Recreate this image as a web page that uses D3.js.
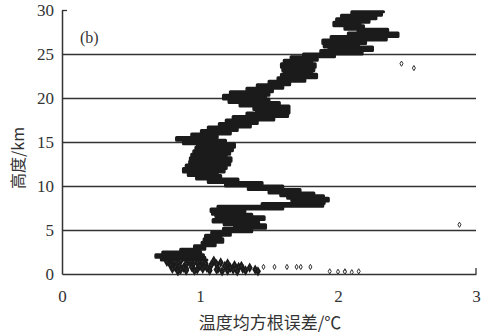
<!DOCTYPE html>
<html>
<head>
<meta charset="utf-8">
<script src="https://cdn.jsdelivr.net/npm/d3@7"></script>
<style>
  body { margin: 0; background: #fff; }
  svg { display: block; }
</style>
</head>
<body>
<div id="graph"></div>
<script>
var width = 484,
    height = 336

// ticks
var xTicks = [0, 1, 2, 3]
var yTicks = [0, 5, 10, 15, 20, 25, 30]

// main profile: each layer is a height (km) with the rmse range (°C) covered by the points
var heights = [1.6, 1.9, 2.2, 2.5, 2.8, 3.2, 3.6, 4.0, 4.4, 4.8, 5.2, 5.6, 5.9, 6.2, 6.5, 6.8, 7.1, 7.4, 7.7,
  8.0, 8.3, 8.6, 8.9, 9.2, 9.6, 10.0, 10.4, 10.8, 11.2, 11.6, 12.0, 12.4, 12.8, 13.2, 13.6,
  14.0, 14.4, 14.8, 15.2, 15.5, 15.9, 16.3, 16.7, 17.1, 17.5, 17.9, 18.3, 18.7, 19.1, 19.5,
  19.9, 20.3, 20.7, 21.1, 21.5, 21.9, 22.3, 22.7, 23.1, 23.5, 23.9, 24.3, 24.7, 25.0, 25.4,
  25.8, 26.2, 26.6, 27.0, 27.4, 27.8, 28.2, 28.6, 29.0, 29.4, 29.8]
var rmseLow = [0.74, 0.70, 0.66, 0.80, 0.92, 1.00, 1.03, 1.03, 1.05, 1.12, 1.22, 1.28, 1.07, 1.12, 1.15, 1.08, 1.10, 1.06, 1.20,
  1.70, 1.68, 1.65, 1.62, 1.55, 1.45, 1.25, 1.12, 1.00, 0.95, 0.88, 0.88, 0.92, 0.93, 0.93, 0.95,
  0.96, 0.98, 0.98, 0.78, 0.88, 1.00, 1.02, 1.10, 1.18, 1.20, 1.28, 1.40, 1.42, 1.36, 1.22,
  1.20, 1.14, 1.30, 1.38, 1.45, 1.55, 1.58, 1.60, 1.62, 1.58, 1.60, 1.62, 1.70, 1.80, 1.95,
  1.92, 1.88, 1.90, 2.00, 2.15, 2.14, 1.96, 1.98, 2.00, 2.05, 2.15]
var rmseHigh = [1.05, 1.02, 1.03, 0.98, 1.02, 1.05, 1.17, 1.16, 1.14, 1.30, 1.45, 1.50, 1.35, 1.48, 1.45, 1.30, 1.35, 1.30, 1.90,
  1.88, 1.92, 1.94, 1.85, 1.80, 1.65, 1.55, 1.35, 1.20, 1.10, 1.15, 1.20, 1.18, 1.25, 1.20, 1.18,
  1.25, 1.22, 1.28, 1.09, 1.05, 1.20, 1.24, 1.30, 1.43, 1.40, 1.67, 1.60, 1.69, 1.60, 1.55,
  1.45, 1.50, 1.50, 1.55, 1.65, 1.65, 1.87, 1.82, 1.80, 1.85, 1.82, 1.80, 1.90, 2.05, 2.30,
  2.20, 2.10, 2.30, 2.40, 2.47, 2.25, 2.12, 2.20, 2.25, 2.30, 2.33]

// scattered points near the ground
var lowH = [1.4, 1.3, 1.5, 1.2, 1.4, 1.1, 1.3, 1.0, 1.2, 1.5, 0.9, 1.1, 0.8, 1.0, 1.3, 0.7, 0.9,
  1.2, 0.6, 0.8, 1.1, 0.5, 0.7, 1.0, 0.4, 0.6, 0.9, 0.3, 0.5, 0.8, 0.4, 0.7, 0.3, 0.6, 0.5,
  0.4, 0.7, 0.3, 0.6, 0.5, 0.4, 0.3, 0.6, 0.5, 1.4, 1.2, 0.9, 0.4]
var lowX = [0.76, 0.80, 0.86, 0.78, 0.92, 0.83, 0.98, 0.79, 1.04, 1.10, 0.85, 0.95, 0.82, 1.08,
  1.15, 0.88, 1.00, 1.20, 0.80, 0.94, 1.12, 0.86, 1.05, 1.25, 0.90, 1.13, 1.18, 0.84, 0.98,
  1.28, 1.07, 1.22, 1.16, 1.31, 1.24, 1.33, 1.36, 1.27, 1.02, 1.40, 0.96, 1.42, 0.90, 1.12,
  1.02, 0.90, 1.30, 1.20]

// isolated points
var outH = [0.8, 0.8, 0.8, 0.8, 0.8, 0.8, 0.3, 0.25, 0.3, 0.2, 0.3, 0.25, 5.6, 23.9, 23.4]
var outX = [1.46, 1.54, 1.63, 1.70, 1.73, 1.80, 1.94, 2.00, 2.05, 2.10, 2.15, 2.05, 2.88, 2.46, 2.55]

var x = d3.scaleLinear().domain([0, 3]).range([62, 476])
var y = d3.scaleLinear().domain([0, 30]).range([274, 10])

var svg = d3.select('#graph')
  .append('svg')
  .attr('width', width)
  .attr('height', height)

var ink = '#1b1b1b'
var numFont = '"Liberation Serif", "DejaVu Serif", serif'

// y axis with gridlines
var yAxis = svg.append('g')
  .attr('transform', 'translate(62,0)')
  .call(d3.axisLeft(y).tickValues(yTicks).tickSize(-414).tickSizeOuter(0).tickPadding(8))
yAxis.select('.domain').attr('stroke', '#333').attr('stroke-width', 1.5)
yAxis.selectAll('.tick line').attr('stroke', '#333').attr('stroke-width', 1.3)
yAxis.selectAll('.tick').filter(function(d){ return d === 0 }).select('line').remove()
yAxis.selectAll('.tick').filter(function(d){ return d === 30 }).select('line').attr('x2', 5)
yAxis.selectAll('.tick text')
  .attr('fill', '#333')
  .style('font-family', numFont)
  .style('font-size', '17px')

// x axis
var xAxis = svg.append('g')
  .attr('transform', 'translate(0,274)')
  .call(d3.axisBottom(x).tickValues(xTicks).tickFormat(d3.format('d'))
    .tickSize(0).tickSizeOuter(0).tickPadding(16))
xAxis.select('.domain').attr('stroke', '#333').attr('stroke-width', 1.5)
xAxis.selectAll('.tick text')
  .attr('fill', '#333')
  .style('font-family', numFont)
  .style('font-size', '17px')
svg.append('line')
  .attr('x1', x(3)).attr('x2', x(3))
  .attr('y1', 274).attr('y2', 268)
  .attr('stroke', '#333').attr('stroke-width', 1.3)

// profile as a filled band, stepped so it keeps the streaky look of the dense points
var layers = heights.map(function(h, i){ return {h: h, lo: rmseLow[i], hi: rmseHigh[i]} })
var band = d3.area()
  .curve(d3.curveStep)
  .y(function(d){ return y(d.h) })
  .x0(function(d){ return x(d.lo) })
  .x1(function(d){ return x(d.hi) })
svg.append('path')
  .datum(layers)
  .attr('d', band)
  .attr('fill', ink)
  .attr('stroke', ink)
  .attr('stroke-width', 3)
  .attr('stroke-linejoin', 'round')

var diamond = d3.symbol().type(d3.symbolDiamond).size(12)

svg.append('g').selectAll('path')
  .data(lowH.map(function(h, i){ return {h: h, v: lowX[i]} }))
  .enter().append('path')
  .attr('d', diamond)
  .attr('transform', function(d){ return 'translate(' + x(d.v) + ',' + y(d.h) + ')' })
  .attr('fill', '#333')
  .attr('stroke', ink)
  .attr('stroke-width', 2)

svg.append('g').selectAll('path')
  .data(outH.map(function(h, i){ return {h: h, v: outX[i]} }))
  .enter().append('path')
  .attr('d', d3.symbol().type(d3.symbolDiamond).size(8))
  .attr('transform', function(d){ return 'translate(' + x(d.v) + ',' + y(d.h) + ')' })
  .attr('fill', '#fff')
  .attr('stroke', '#333')
  .attr('stroke-width', 1)

// panel label
svg.append('text')
  .attr('x', 80).attr('y', 43)
  .attr('fill', '#333')
  .style('font-family', numFont)
  .style('font-size', '16px')
  .text('(b)')

// axis titles
svg.append('text')
  .attr('x', 270).attr('y', 329)
  .attr('text-anchor', 'middle')
  .attr('fill', '#333')
  .style('font-family', '"Noto Sans CJK SC", sans-serif')
  .style('font-size', '17px')
  .text('温度均方根误差/℃')

svg.append('text')
  .attr('transform', 'translate(24,158) rotate(-90)')
  .attr('text-anchor', 'middle')
  .attr('fill', '#333')
  .style('font-family', '"Noto Sans CJK SC", sans-serif')
  .style('font-size', '16px')
  .text('高度/km')
</script>
</body>
</html>
